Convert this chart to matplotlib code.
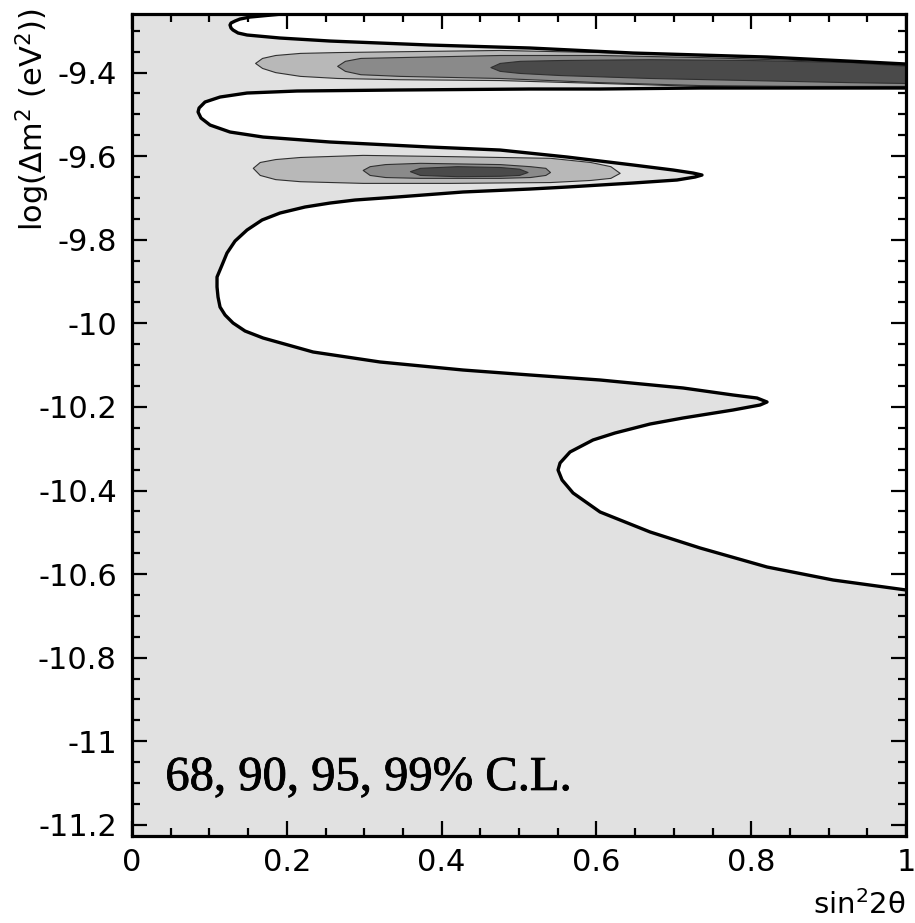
import numpy as np
import matplotlib.pyplot as plt
import matplotlib.patheffects as pe
from matplotlib.ticker import FuncFormatter, MultipleLocator

plt.rcParams['axes.unicode_minus'] = False

# 99% C.L. boundary, upper piece (leaves the top axis, ends on the right edge)
edge1_x = [0.1938, 0.1525, 0.1395, 0.1331, 0.1279, 0.1266, 0.1279, 0.1305, 0.1370,
           0.1486, 0.1912, 0.2558, 0.3850, 0.5142, 0.6473, 0.8204, 0.9496, 1.0]
edge1_y = [-9.2600, -9.2672, -9.2720, -9.2767, -9.2815, -9.2863, -9.2935, -9.2983, -9.3054,
           -9.3102, -9.3174, -9.3246, -9.3342, -9.3413, -9.3533, -9.3629, -9.3748, -9.3796]

# 99% C.L. boundary, lower piece (right edge -> noses and tips -> right edge)
edge2_x = [1.0, 0.8630, 0.7339, 0.6047, 0.5142, 0.3424, 0.2132, 0.1486, 0.1137, 0.0943,
           0.0866, 0.0853, 0.0891, 0.1008, 0.1266, 0.1693, 0.2558, 0.3850, 0.4755, 0.5620,
           0.6473, 0.6990, 0.7248, 0.7364, 0.7274, 0.7041, 0.6473, 0.5620, 0.5142, 0.4276,
           0.3424, 0.2881, 0.2558, 0.2235, 0.1912, 0.1680, 0.1486, 0.1331, 0.1227, 0.1163,
           0.1098, 0.1098, 0.1111, 0.1137, 0.1202, 0.1305, 0.1460, 0.1693, 0.2339, 0.3204,
           0.4276, 0.5142, 0.6047, 0.7119, 0.7765, 0.8075, 0.8204, 0.8114, 0.7765, 0.7119,
           0.6693, 0.6240, 0.5956, 0.5659, 0.5530, 0.5504, 0.5556, 0.5698, 0.6047, 0.6693,
           0.7339, 0.8204, 0.9057, 1.0]
edge2_y = [-9.4370, -9.4370, -9.4370, -9.4394, -9.4394, -9.4418, -9.4442, -9.4490, -9.4586, -9.4705,
           -9.4849, -9.4944, -9.5088, -9.5256, -9.5423, -9.5543, -9.5662, -9.5782, -9.5854, -9.6021,
           -9.6212, -9.6332, -9.6404, -9.6452, -9.6500, -9.6571, -9.6643, -9.6739, -9.6787, -9.6858,
           -9.6978, -9.7050, -9.7122, -9.7217, -9.7361, -9.7528, -9.7767, -9.8031, -9.8318, -9.8605,
           -9.8892, -9.9131, -9.9371, -9.9610, -9.9801, -9.9992, -10.0184, -10.0351, -10.0686, -10.0925,
           -10.1117, -10.1236, -10.1356, -10.1547, -10.1715, -10.1787, -10.1882, -10.1954, -10.2074, -10.2265,
           -10.2409, -10.2624, -10.2791, -10.3078, -10.3341, -10.3509, -10.3748, -10.4059, -10.4514, -10.4992,
           -10.5375, -10.5830, -10.6141, -10.6380]

# upper band near log(dm2) = -9.4 : x, top, bottom for 95, 90, 68 % C.L.
b1_95_x = [0.159, 0.168, 0.185, 0.217, 0.265, 0.346, 0.475, 0.605, 0.734, 0.863, 1.000]
b1_95_hi = [-9.377, -9.365, -9.358, -9.353, -9.351, -9.349, -9.346, -9.351, -9.358, -9.366, -9.380]
b1_95_lo = [-9.377, -9.389, -9.399, -9.408, -9.413, -9.416, -9.418, -9.425, -9.432, -9.435, -9.435]

b1_90_x = [0.265, 0.275, 0.295, 0.346, 0.475, 0.605, 0.734, 0.863, 1.000]
b1_90_hi = [-9.384, -9.372, -9.365, -9.363, -9.358, -9.358, -9.363, -9.370, -9.382]
b1_90_lo = [-9.384, -9.396, -9.404, -9.408, -9.413, -9.423, -9.430, -9.432, -9.432]

b1_68_x = [0.463, 0.475, 0.501, 0.553, 0.669, 0.798, 0.928, 1.000]
b1_68_hi = [-9.387, -9.377, -9.372, -9.370, -9.368, -9.370, -9.375, -9.384]
b1_68_lo = [-9.387, -9.396, -9.401, -9.406, -9.413, -9.418, -9.423, -9.425]

# lower band near log(dm2) = -9.63
b2_95_x = [0.156, 0.165, 0.185, 0.217, 0.298, 0.411, 0.540, 0.592, 0.618, 0.630]
b2_95_hi = [-9.628, -9.614, -9.607, -9.602, -9.597, -9.600, -9.604, -9.614, -9.624, -9.640]
b2_95_lo = [-9.628, -9.645, -9.655, -9.660, -9.664, -9.664, -9.662, -9.657, -9.652, -9.640]

b2_90_x = [0.298, 0.307, 0.327, 0.372, 0.475, 0.514, 0.534, 0.540]
b2_90_hi = [-9.633, -9.624, -9.619, -9.616, -9.619, -9.624, -9.628, -9.638]
b2_90_lo = [-9.633, -9.645, -9.650, -9.652, -9.652, -9.650, -9.645, -9.638]

b2_68_x = [0.359, 0.372, 0.420, 0.475, 0.500, 0.511]
b2_68_hi = [-9.636, -9.628, -9.624, -9.626, -9.630, -9.638]
b2_68_lo = [-9.636, -9.645, -9.648, -9.647, -9.645, -9.638]

y_ticks = [-11.2, -11.0, -10.8, -10.6, -10.4, -10.2, -10.0, -9.8, -9.6, -9.4]
x_ticks = [0, 0.2, 0.4, 0.6, 0.8, 1.0]

c99 = '#e1e1e1'
c95 = '#b8b8b8'
c90 = '#8a8a8a'
c68 = '#4a4a4a'

fig = plt.figure(figsize=(9.15, 9.23), dpi=100)
ax = fig.add_axes([0.1443, 0.0943, 0.8459, 0.8905])
ax.set_xlim(0, 1)
ax.set_ylim(-11.2265, -9.26)
ax.set_facecolor(c99)

# excluded (white) parts
ax.fill(edge1_x + [1.0], edge1_y + [-9.26], color='white', lw=0, zorder=1)
ax.fill(edge2_x, edge2_y, color='white', lw=0, zorder=1)

bands = [(b1_95_x, b1_95_hi, b1_95_lo, c95), (b1_90_x, b1_90_hi, b1_90_lo, c90),
         (b1_68_x, b1_68_hi, b1_68_lo, c68),
         (b2_95_x, b2_95_hi, b2_95_lo, c95), (b2_90_x, b2_90_hi, b2_90_lo, c90),
         (b2_68_x, b2_68_hi, b2_68_lo, c68)]
for bx, hi, lo, col in bands:
    ax.fill_between(bx, lo, hi, facecolor=col, edgecolor='#303030', lw=0.8, zorder=2)

for ex, ey in [(edge1_x, edge1_y), (edge2_x, edge2_y)]:
    ax.plot(ex, ey, color='black', lw=2.4, zorder=3, solid_joinstyle='round',
            solid_capstyle='butt')

ax.text(0.043, 0.056, '68, 90, 95, 99% C.L.', transform=ax.transAxes,
        family='Liberation Serif', fontsize=35, va='baseline', ha='left', zorder=4,
        path_effects=[pe.withStroke(linewidth=0.6, foreground='black')])

ax.set_xticks(x_ticks)
ax.set_yticks(y_ticks)
ax.xaxis.set_minor_locator(MultipleLocator(0.05))
ax.yaxis.set_minor_locator(MultipleLocator(0.05))
fmt = FuncFormatter(lambda v, pos: '%g' % round(v, 2))
ax.xaxis.set_major_formatter(fmt)
ax.yaxis.set_major_formatter(fmt)
ax.tick_params(which='both', direction='in', top=True, right=True, width=1.6,
               labelsize=22, colors='black')
ax.tick_params(which='major', length=11)
ax.tick_params(which='minor', length=6)
ax.tick_params(axis='y', pad=11)
ax.tick_params(axis='x', pad=9)
for s in ax.spines.values():
    s.set_linewidth(2.3)
    s.set_zorder(5)

fig.text(33 / 915, 1 - 8 / 923, 'log(\u0394m$^{2}$ (eV$^{2}$))', rotation=90,
         ha='center', va='top', fontsize=22)
fig.text(906 / 915, 1 - 914 / 923, 'sin$^{2}$2\u03b8', ha='right', va='baseline',
         fontsize=21)

fig.savefig('out.png', dpi=100, facecolor='white')
